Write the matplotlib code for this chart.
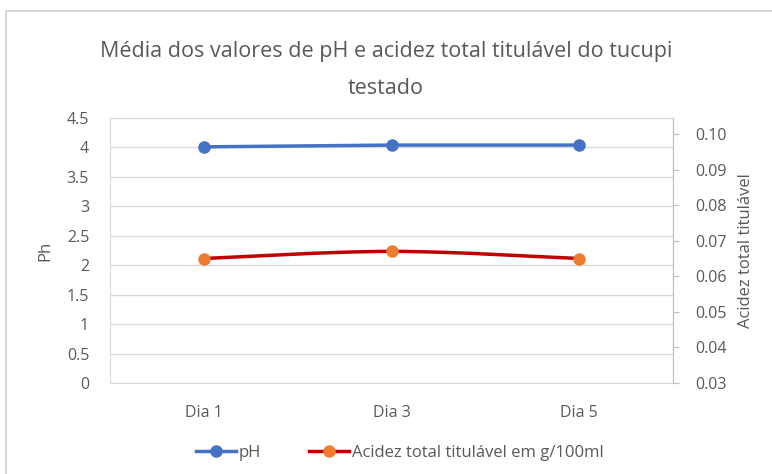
import numpy as np
import matplotlib.pyplot as plt
from matplotlib.path import Path
from matplotlib.patches import PathPatch, Rectangle
from matplotlib.lines import Line2D

plt.rcParams['font.family'] = ['Open Sans', 'DejaVu Sans']

days = ['Dia 1', 'Dia 3', 'Dia 5']
ph = [4.01, 4.04, 4.04]
acidez = [0.065, 0.067, 0.065]

ph_ticks = [0, 0.5, 1, 1.5, 2, 2.5, 3, 3.5, 4, 4.5]
ph_labels = ['0', '0.5', '1', '1.5', '2', '2.5', '3', '3.5', '4', '4.5']
ac_ticks = [0.03, 0.04, 0.05, 0.06, 0.07, 0.08, 0.09, 0.10]

blue = '#4472C4'
red = '#C00000'
orange = '#ED7D31'
grid = '#D9D9D9'
txt = '#595959'

fig = plt.figure(figsize=(7.72, 4.74), dpi=100)
# outer chart frame
fig.patches.append(Rectangle((6 / 772, -0.1), 1.2, 1.1 - 11 / 474, transform=fig.transFigure,
                             fill=False, edgecolor='#D0D0D0', linewidth=1.2))

ax = fig.add_axes([110 / 772, 91 / 474, 563 / 772, 265 / 474])
ax2 = ax.twinx()

x = np.arange(len(days))
ax.set_xlim(-0.5, len(days) - 0.5)
ax.set_ylim(0, 4.5)
ax.set_yticks(ph_ticks)
ax.set_yticklabels(ph_labels)
ax.set_xticks(x)
ax.set_xticklabels(days)
ax.grid(axis='y', color=grid, linewidth=1)
ax.set_axisbelow(True)
ax.tick_params(axis='both', length=0, colors=txt, labelsize=11.5)
ax.tick_params(axis='y', pad=15)
ax.tick_params(axis='x', pad=16)
for s in ax.spines.values():
    s.set_color(grid)
ax.set_ylabel('Ph', color=txt, fontsize=12, labelpad=10)

ax.plot(x, ph, color=blue, linewidth=2.5, marker='o', markersize=8, zorder=3)

# right axis
ax2.set_ylim(0.03, 0.1045)
ax2.set_yticks(ac_ticks)
ax2.set_yticklabels(['%.2f' % t for t in ac_ticks])
ax2.tick_params(axis='y', length=4, color='#BFBFBF', labelcolor=txt, labelsize=11.5, pad=12)
for s in ax2.spines.values():
    s.set_visible(False)
ax2.spines['right'].set_visible(True)
ax2.spines['right'].set_color('#BFBFBF')
ax2.set_ylabel('Acidez total titulável', color=txt, fontsize=12, labelpad=8)

# smoothed line like Excel (Bezier through the data points)
pts = np.column_stack([x, acidez]).astype(float)
verts = [tuple(pts[0])]
codes = [Path.MOVETO]
n = len(pts)
for i in range(n - 1):
    p0 = pts[max(i - 1, 0)]
    p1 = pts[i]
    p2 = pts[i + 1]
    p3 = pts[min(i + 2, n - 1)]
    c1 = p1 + (p2 - p0) / 6
    c2 = p2 - (p3 - p1) / 6
    verts += [tuple(c1), tuple(c2), tuple(p2)]
    codes += [Path.CURVE4] * 3
ax2.add_patch(PathPatch(Path(verts, codes), facecolor='none', edgecolor=red, linewidth=2.5, zorder=3))
ax2.plot(x, acidez, linestyle='none', marker='o', markersize=8, color=orange, zorder=4)

fig.text(0.5, 1 - 70 / 474, 'Média dos valores de pH e acidez total titulável do tucupi\ntestado',
         ha='center', va='center', fontsize=15.5, color=txt, linespacing=1.95)

handles = [Line2D([], [], color=blue, linewidth=2.5, marker='o', markersize=8),
           Line2D([], [], color=red, linewidth=2.5, marker='o', markersize=8,
                  markerfacecolor=orange, markeredgecolor=orange)]
fig.legend(handles, ['pH', 'Acidez total titulável em g/100ml'], loc='center',
           bbox_to_anchor=(0.518, 21 / 474), ncol=2, frameon=False, fontsize=12,
           labelcolor=txt, handlelength=2.4, handletextpad=0.15, columnspacing=2.9)

fig.savefig('out.png', dpi=100)
